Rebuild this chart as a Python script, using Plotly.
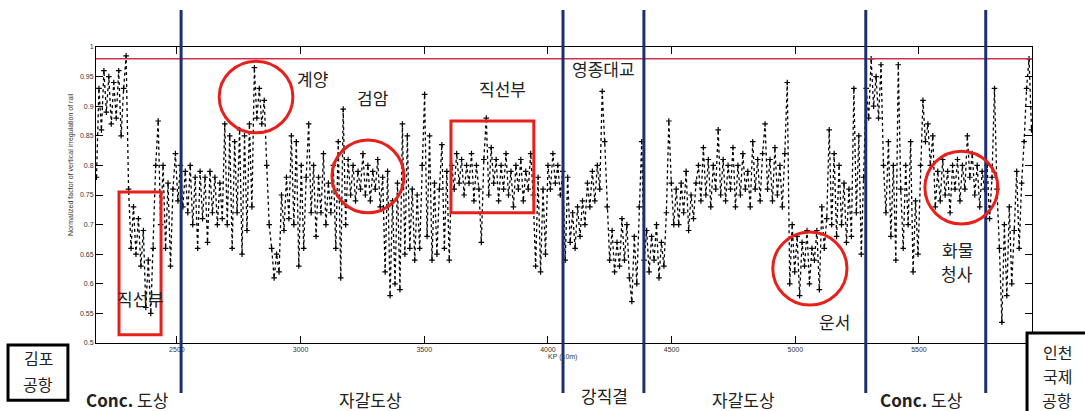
import numpy as np
import plotly.graph_objects as go

# ---- data ----
KP_FIRST = 2175
KP_LAST = 5955
values = [
    # 2175-2295 Gimpo high block
    0.78, 0.93, 0.86, 0.96, 0.89, 0.95, 0.87, 0.94, 0.88, 0.96, 0.85, 0.93, 0.985,
    # 2305-2395 low straight section
    0.76, 0.66, 0.73, 0.65, 0.71, 0.63, 0.69, 0.56, 0.64, 0.55, 0.66,
    # 2405-2515
    0.80, 0.875, 0.70, 0.80, 0.66, 0.77, 0.63, 0.76, 0.82, 0.74, 0.80, 0.73,
    # 2525-2675
    0.79, 0.72, 0.80, 0.70, 0.78, 0.66, 0.79, 0.71, 0.78, 0.67, 0.79, 0.72, 0.78, 0.70, 0.77, 0.71,
    # 2685-2805
    0.87, 0.70, 0.85, 0.66, 0.84, 0.72, 0.86, 0.65, 0.85, 0.69, 0.87, 0.73, 0.965,
    # 2815-2905
    0.88, 0.93, 0.87, 0.91, 0.80, 0.70, 0.66, 0.61, 0.65, 0.62,
    # 2915-3025
    0.75, 0.69, 0.78, 0.71, 0.85, 0.70, 0.84, 0.63, 0.80, 0.66, 0.78, 0.87,
    # 3035-3175
    0.72, 0.80, 0.68, 0.78, 0.72, 0.82, 0.70, 0.77, 0.72, 0.80, 0.66, 0.84, 0.61, 0.895, 0.70,
    # 3185-3325 Geomam cluster
    0.81, 0.75, 0.80, 0.74, 0.79, 0.76, 0.82, 0.75, 0.80, 0.74, 0.79, 0.76, 0.81, 0.73, 0.78,
    # 3335-3435
    0.62, 0.79, 0.58, 0.74, 0.60, 0.77, 0.59, 0.87, 0.65, 0.85, 0.66,
    # 3445-3605
    0.76, 0.64, 0.75, 0.66, 0.80, 0.92, 0.68, 0.85, 0.64, 0.77, 0.65, 0.76, 0.835, 0.66, 0.79, 0.64, 0.80,
    # 3615-3935 straight section
    0.76, 0.82, 0.77, 0.81, 0.75, 0.80, 0.77, 0.82, 0.74, 0.80, 0.76, 0.67, 0.81, 0.88, 0.75, 0.83,
    0.77, 0.81, 0.74, 0.80, 0.76, 0.82, 0.75, 0.79, 0.73, 0.80, 0.76, 0.81, 0.74, 0.79, 0.76, 0.82, 0.75,
    # 3945-4055
    0.63, 0.78, 0.62, 0.76, 0.65, 0.80, 0.76, 0.82, 0.77, 0.80, 0.75, 0.79,
    # 4065-4195 Yeongjong bridge
    0.64, 0.78, 0.67, 0.72, 0.66, 0.73, 0.68, 0.74, 0.70, 0.77, 0.73, 0.79, 0.74, 0.80,
    # 4205-4375
    0.76, 0.925, 0.84, 0.73, 0.64, 0.69, 0.62, 0.67, 0.63, 0.71, 0.64, 0.70, 0.61, 0.57, 0.68, 0.60,
    0.73, 0.84,
    # 4385-4505
    0.64, 0.69, 0.62, 0.68, 0.64, 0.70, 0.61, 0.67, 0.63, 0.72, 0.875, 0.77, 0.70,
    # 4515-4695
    0.76, 0.70, 0.77, 0.72, 0.79, 0.69, 0.75, 0.71, 0.77, 0.80, 0.74, 0.83, 0.75, 0.81, 0.73, 0.80,
    0.76, 0.86, 0.75,
    # 4705-4945
    0.81, 0.74, 0.80, 0.76, 0.83, 0.73, 0.80, 0.75, 0.82, 0.76, 0.79, 0.73, 0.84, 0.76, 0.81, 0.74,
    0.82, 0.87, 0.76, 0.81, 0.74, 0.83, 0.75, 0.80, 0.73,
    # 4955-5095 Unseo
    0.82, 0.94, 0.60, 0.70, 0.62, 0.68, 0.58, 0.67, 0.63, 0.69, 0.60, 0.66, 0.64, 0.69, 0.59,
    # 5105-5265
    0.73, 0.66, 0.71, 0.86, 0.70, 0.82, 0.68, 0.80, 0.70, 0.77, 0.67, 0.76, 0.68, 0.93, 0.72, 0.85, 0.65,
    # 5275-5345
    0.78, 0.93, 0.88, 0.98, 0.90, 0.95, 0.88, 0.97,
    # 5355-5495
    0.80, 0.72, 0.84, 0.68, 0.80, 0.64, 0.97, 0.76, 0.66, 0.80, 0.70, 0.84, 0.62, 0.74, 0.65,
    # 5505-5555
    0.80, 0.91, 0.84, 0.87, 0.80, 0.85,
    # 5565-5765 cargo terminal
    0.73, 0.79, 0.74, 0.81, 0.75, 0.79, 0.72, 0.80, 0.76, 0.81, 0.74, 0.80, 0.76, 0.85, 0.78, 0.82,
    0.75, 0.80, 0.73, 0.79, 0.76,
    # 5775-5955 Incheon approach
    0.80, 0.71, 0.78, 0.93, 0.76, 0.66, 0.535, 0.70, 0.58, 0.73, 0.60, 0.69, 0.79, 0.66, 0.77,
    0.84, 0.93, 0.98, 0.86,
]
kp = np.linspace(KP_FIRST, KP_LAST, len(values))

limit_value = 0.98
section_bounds = [2517, 4061, 4388, 5285, 5770]
y_ticks = [0.5, 0.55, 0.6, 0.65, 0.7, 0.75, 0.8, 0.85, 0.9, 0.95, 1.0]
y_tick_text = ["0.5", "0.55", "0.6", "0.65", "0.7", "0.75", "0.8", "0.85", "0.9", "0.95", "1"]
x_ticks = [2500, 3000, 3500, 4000, 4500, 5000, 5500]

X_RANGE = [2173, 5957]

fig = go.Figure()
fig.add_trace(go.Scatter(
    x=kp, y=values, mode="lines+markers",
    line=dict(color="black", width=1.3, dash="dot"),
    marker=dict(symbol="cross-thin", size=4, line=dict(color="black", width=1.2)),
    showlegend=False, hoverinfo="skip",
))

shapes = []
# red limit line
shapes.append(dict(type="line", xref="x", yref="y", x0=X_RANGE[0], x1=X_RANGE[1],
                   y0=limit_value, y1=limit_value, line=dict(color="#d0304a", width=1.5)))
# section boundaries (blue)
for b in section_bounds:
    shapes.append(dict(type="line", xref="x", yref="paper", x0=b, x1=b, y0=-0.169, y1=1.125,
                       line=dict(color="#1c2f6e", width=3)))
RED = "#e8201c"
# circles
for (x0, x1, y0, y1) in [(2671, 2969, 0.855, 0.976), (3127, 3418, 0.720, 0.843),
                         (4909, 5209, 0.564, 0.6875), (5524, 5819, 0.701, 0.824)]:
    shapes.append(dict(type="circle", xref="x", yref="y", x0=x0, x1=x1, y0=y0, y1=y1,
                       line=dict(color=RED, width=3)))
# rectangles
for (x0, x1, y0, y1) in [(2266, 2436, 0.514, 0.755), (3608, 3943, 0.720, 0.875)]:
    shapes.append(dict(type="rect", xref="x", yref="y", x0=x0, x1=x1, y0=y0, y1=y1,
                       line=dict(color=RED, width=3)))
# airport boxes
shapes.append(dict(type="rect", xref="paper", yref="paper", x0=-0.094, x1=-0.030,
                   y0=-0.193, y1=-0.007, line=dict(color="black", width=3)))
shapes.append(dict(type="rect", xref="paper", yref="paper", x0=0.9947, x1=1.06,
                   y0=-0.25, y1=0.034, line=dict(color="black", width=3), fillcolor="white"))

KFONT = "Noto Sans CJK KR"

def px(xp):
    return (xp - 96) / 936

def py(yp):
    return (343 - yp) / 296

def ann(text, x, y, size=17, color="#222"):
    return dict(text=text, x=px(x), y=py(y), xref="paper", yref="paper", showarrow=False,
                font=dict(family=KFONT, size=size, color=color), xanchor="center", yanchor="middle")

annotations = [
    ann("계양", 312, 78),
    ann("검암", 373, 98),
    ann("직선부", 502, 88),
    ann("영종대교", 603, 68),
    ann("직선부", 140, 298),
    ann("운서", 834, 321),
    ann("화물", 957, 250),
    ann("청사", 957, 273),
    ann("<b>Conc.</b> 도상", 127, 399),
    ann("자갈도상", 370, 399),
    ann("강직결", 604, 395),
    ann("자갈도상", 743, 399),
    ann("<b>Conc.</b> 도상", 921, 399),
    ann("김포", 38, 358, size=16),
    ann("공항", 38, 384, size=16),
    ann("인천", 1057, 352, size=16),
    ann("국제", 1057, 376, size=16),
    ann("공항", 1057, 400, size=16),
    dict(text="KP (10m)", x=px(562), y=py(357), xref="paper", yref="paper", showarrow=False,
         font=dict(family="Liberation Sans", size=7, color="#333"), xanchor="center", yanchor="middle"),
    dict(text="Normalized factor of vertical irregulation of rail", x=px(71), y=py(165),
         xref="paper", yref="paper", showarrow=False, textangle=-90,
         font=dict(family="Liberation Sans", size=7, color="#333"), xanchor="center", yanchor="middle"),
]

fig.update_layout(
    width=1085, height=411,
    margin=dict(l=96, r=53, t=47, b=68),
    paper_bgcolor="white", plot_bgcolor="white",
    shapes=shapes, annotations=annotations,
    xaxis=dict(range=X_RANGE, tickvals=x_ticks, ticks="inside", ticklen=7, tickcolor="black",
               showline=True, linecolor="black", linewidth=1, mirror="allticks", showgrid=False,
               zeroline=False, tickfont=dict(family="Liberation Sans", size=7, color="#333")),
    yaxis=dict(range=[0.5, 1.0], tickvals=y_ticks, ticktext=y_tick_text, ticks="inside",
               ticklen=7, tickcolor="black", showline=True, linecolor="black", linewidth=1,
               mirror="allticks", showgrid=False, zeroline=False,
               tickfont=dict(family="Liberation Sans", size=7, color="#333")),
)

fig.write_html("out.html")
